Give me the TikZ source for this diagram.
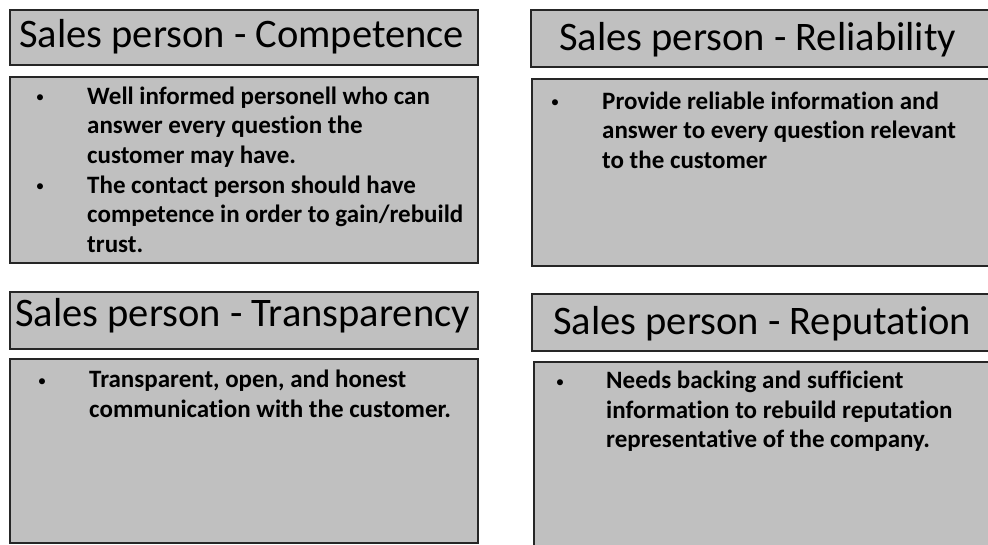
\documentclass[tikz,border=0pt]{standalone}
\usepackage{fontspec}
\setmainfont{Carlito}[Ligatures=NoCommon]
\definecolor{boxgray}{HTML}{C0C0C0}
\definecolor{edgegray}{HTML}{262626}
\begin{document}
\begin{tikzpicture}[x=1pt,y=-1pt,
  panel/.style={draw=edgegray, fill=boxgray, line width=1.8pt, anchor=north west, inner sep=0pt},
  ttl/.style={anchor=base west, inner sep=0pt, font=\fontsize{40.5}{48}\selectfont, text=black},
  bul/.style={anchor=center, inner sep=0pt, font=\fontsize{17}{20}\selectfont},
  bodytext/.style={anchor=base west, inner sep=0pt, align=left, font=\bfseries\fontsize{25}{29.7}\selectfont}]
\useasboundingbox (0,0) rectangle (988,544);
\clip (0,0) rectangle (988,544);
% panels
\node[panel, minimum width=468pt, minimum height=55pt] (t1) at (9,9) {};
\node[panel, minimum width=468pt, minimum height=186pt] (b1) at (9,76) {};
\node[panel, minimum width=480pt, minimum height=57pt] (t2) at (530,9) {};
\node[panel, minimum width=480pt, minimum height=187pt] (b2) at (531,78) {};
\node[panel, minimum width=468pt, minimum height=57pt] (t3) at (9,291) {};
\node[panel, minimum width=468pt, minimum height=184pt] (b3) at (9,358) {};
\node[panel, minimum width=480pt, minimum height=57pt] (t4) at (531,293) {};
\node[panel, minimum width=480pt, minimum height=200pt] (b4) at (533,361) {};
% titles
\node[ttl] (h1) at (19,47) {Sales person - Competence};
\node[ttl] (h2) at (559,50) {Sales person - Reliability};
\node[ttl] (h3) at (15,326) {Sales person - Transparency};
\node[ttl] (h4) at (553,334) {Sales person - Reputation};
% bullets and texts (anchor = baseline of last line)
\node[bul] (p1a) at (40,99) {•};
\node[bodytext] (x1a) at (87,163.4) {Well informed personell who can\\answer every question the\\customer may have.};
\node[bul] (p1b) at (40,188.1) {•};
\node[bodytext] (x1b) at (87,252.5) {The contact person should have\\competence in order to gain/rebuild\\trust.};
\node[bul] (p2) at (555,104) {•};
\node[bodytext] (x2) at (602,168.4) {Provide reliable information and\\answer to every question relevant\\to the customer};
\node[bul] (p3) at (42,382.5) {•};
\node[bodytext] (x3) at (89,417.2) {Transparent, open, and honest\\communication with the customer.};
\node[bul] (p4) at (560,383.3) {•};
\node[bodytext] (x4) at (606,447.7) {Needs backing and sufficient\\information to rebuild reputation\\representative of the company.};
\end{tikzpicture}
\end{document}
